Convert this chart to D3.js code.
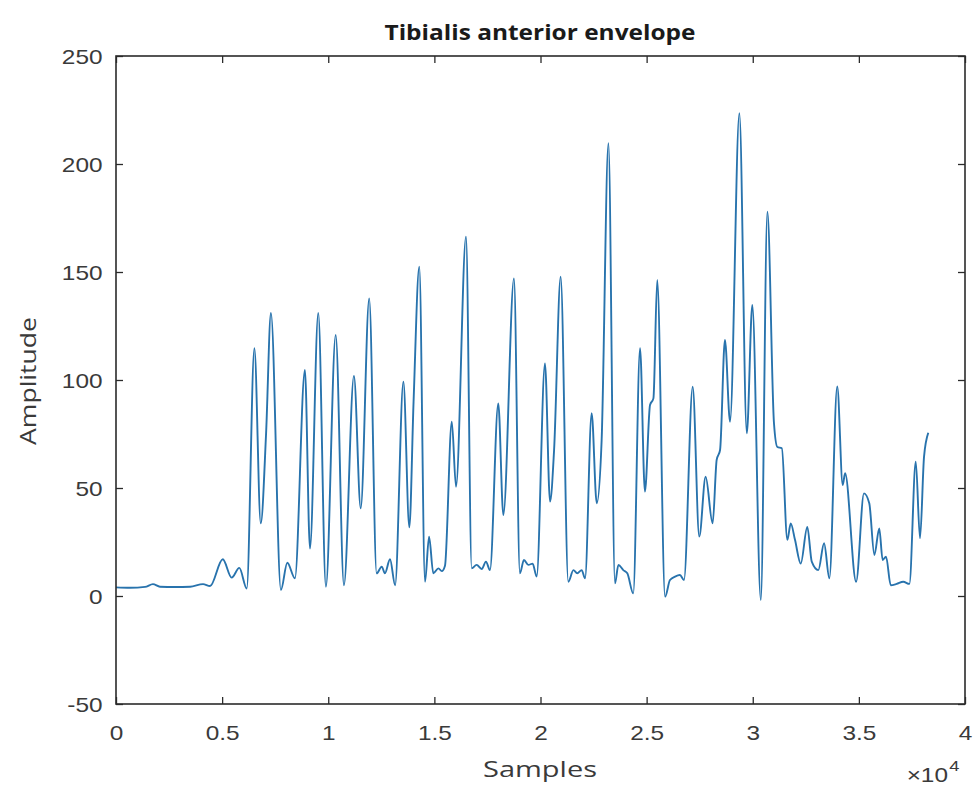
<!DOCTYPE html>
<html>
<head>
<meta charset="utf-8">
<script src="https://cdn.jsdelivr.net/npm/d3@7"></script>
<style>
  body { margin: 0; background: #fff; }
  svg { display: block; }
</style>
</head>
<body>
<svg id="chart" width="975" height="785"></svg>
<script>
// Envelope samples (sample index, amplitude)
const samples = [
  0, 660, 1370, 1740, 2070, 2780, 3490, 4100, 4430, 5030,
  5450, 5810, 6160, 6520, 6820, 7070, 7300, 7770, 8070, 8430,
  8900, 9140, 9530, 9890, 10350, 10740, 11210, 11530, 11930, 12280,
  12520, 12670, 12910, 13150, 13540, 13820, 14020, 14290, 14560, 14750,
  14950, 15190, 15350, 15500, 15820, 16020, 16490, 16760, 16990, 17230,
  17430, 17620, 18010, 18250, 18750, 19030, 19220, 19430, 19630, 19820,
  20210, 20450, 20640, 20950, 21310, 21550, 21730, 21940, 22100, 22410,
  22650, 22880, 23200, 23510, 23670, 23900, 24090, 24370, 24690, 24920,
  25160, 25320, 25500, 25870, 26100, 26340, 26570, 26760, 27170, 27480,
  27780, 28110, 28300, 28460, 28690, 28930, 29370, 29720, 29980, 30380,
  30690, 31000, 31160, 31370, 31630, 31790, 31990, 32260, 32570, 32780,
  33090, 33360, 33610, 33980, 34240, 34350, 34870, 35240, 35490, 35730,
  35960, 36120, 36280, 36500, 36780, 37090, 37380, 37680, 37880, 38070,
  38270
];
const amplitude = [
  4.0, 3.8, 4.2, 5.5, 4.3, 4.2, 4.3, 5.5, 4.6, 17,
  8.5, 13, 3.5, 114.7, 33.6, 75, 131, 2.8, 15.4, 8.2,
  104.6, 22, 131, 4.3, 120.8, 5, 101.9, 40.6, 137.8, 10.5,
  13.6, 10.5, 17, 5, 99.2, 31.8, 90, 152.5, 6.6, 27.5,
  10.5, 12.8, 11.5, 14, 80.7, 50.6, 166.3, 12.8, 14.4, 12.5,
  15.9, 12, 89.2, 37.5, 147, 10.5, 16.7, 14.4, 15, 9,
  107.7, 43.7, 67.6, 147.8, 6.6, 12, 10.5, 12, 8.2, 84.6,
  42.9, 72, 209.6, 5.9, 14.4, 12, 10.5, 1.2, 114.7, 48.3,
  88.4, 91.5, 146.3, -0.3, 7.4, 9, 9.7, 7.4, 96.9, 27.5,
  55.2, 33.6, 63, 67.6, 118.5, 80.7, 223.5, 75.3, 134.7, -1.9,
  177.9, 80, 69, 68.4, 26, 33.6, 26, 15, 32, 15.9,
  12, 24.4, 8.2, 97, 51.4, 56.8, 6.6, 47.5, 42.9, 19,
  31.3, 16.7, 18.2, 5, 5.6, 6.6, 5.6, 62.2, 26.7, 64.5,
  75.6
];

const xTicks = [0, 5000, 10000, 15000, 20000, 25000, 30000, 35000, 40000];
const xTickLabels = ['0', '0.5', '1', '1.5', '2', '2.5', '3', '3.5', '4'];
const yTicks = [-50, 0, 50, 100, 150, 200, 250];

const titleText = 'Tibialis anterior envelope';
const xLabelText = 'Samples';
const yLabelText = 'Amplitude';

// plot box (pixels)
const plotLeft = 116, plotRight = 965, plotTop = 56, plotBottom = 704;
const axisColor = '#2b2b2b';
const textColor = '#3a3a3a';
const stretch = 1.22; // tick text in the figure is stretched horizontally

const svg = d3.select('#chart');

const x = d3.scaleLinear().domain([0, 40000]).range([plotLeft, plotRight]);
const y = d3.scaleLinear().domain([-50, 250]).range([plotBottom, plotTop]);

// data line
const data = samples.map((s, i) => [s, amplitude[i]]);
const line = d3.line()
  .x(d => x(d[0]))
  .y(d => y(d[1]))
  .curve(d3.curveMonotoneX);

svg.append('path')
  .datum(data)
  .attr('fill', 'none')
  .attr('stroke', '#2873ad')
  .attr('stroke-width', 1.9)
  .attr('stroke-linejoin', 'round')
  .attr('d', line);

// axes, ticks pointing inward, mirrored on top/right
const xAxis = svg.append('g')
  .attr('transform', `translate(0,${plotBottom})`)
  .call(d3.axisBottom(x).tickValues(xTicks)
    .tickFormat((d, i) => xTickLabels[i])
    .tickSize(-7).tickSizeOuter(0));

const xTop = svg.append('g')
  .attr('transform', `translate(0,${plotTop})`)
  .call(d3.axisTop(x).tickValues(xTicks).tickFormat('')
    .tickSize(-7).tickSizeOuter(0));

const yAxis = svg.append('g')
  .attr('transform', `translate(${plotLeft},0)`)
  .call(d3.axisLeft(y).tickValues(yTicks)
    .tickFormat(d => String(d))
    .tickSize(-7).tickSizeOuter(0));

const yRight = svg.append('g')
  .attr('transform', `translate(${plotRight},0)`)
  .call(d3.axisRight(y).tickValues(yTicks).tickFormat('')
    .tickSize(-7).tickSizeOuter(0));

[xAxis, xTop, yAxis, yRight].forEach(g => {
  g.select('.domain').remove();
  g.selectAll('.tick line').attr('stroke', axisColor).attr('stroke-width', 1.3);
});

xAxis.selectAll('.tick text')
  .attr('y', 36).attr('dy', 0)
  .attr('transform', `scale(${stretch},1)`)
  .attr('fill', textColor)
  .attr('font-family', 'Liberation Sans, Arial, sans-serif')
  .attr('font-size', 20);

yAxis.selectAll('.tick text')
  .attr('x', -13.5 / stretch).attr('dy', '0.38em')
  .attr('transform', `scale(${stretch},1)`)
  .attr('fill', textColor)
  .attr('font-family', 'Liberation Sans, Arial, sans-serif')
  .attr('font-size', 20);

// the box
svg.append('rect')
  .attr('x', plotLeft).attr('y', plotTop)
  .attr('width', plotRight - plotLeft).attr('height', plotBottom - plotTop)
  .attr('fill', 'none')
  .attr('stroke', axisColor)
  .attr('stroke-width', 1.6);

// exponent label
const expo = svg.append('g')
  .attr('transform', `translate(948,782) scale(${stretch},1)`)
  .attr('fill', textColor)
  .attr('font-family', 'Liberation Sans, Arial, sans-serif');
expo.append('text')
  .attr('text-anchor', 'end')
  .attr('font-size', 20)
  .text('\u00d710');
expo.append('text')
  .attr('x', 1).attr('y', -11)
  .attr('font-size', 15)
  .text('4');

// title and axis labels
svg.append('text')
  .attr('x', 540).attr('y', 40)
  .attr('text-anchor', 'middle')
  .attr('font-family', 'Open Sans, sans-serif')
  .attr('font-weight', 'bold')
  .attr('font-size', 21)
  .attr('textLength', 311)
  .attr('lengthAdjust', 'spacingAndGlyphs')
  .attr('fill', '#1a1a1a')
  .text(titleText);

svg.append('text')
  .attr('x', 540).attr('y', 777)
  .attr('text-anchor', 'middle')
  .attr('font-family', 'Open Sans, sans-serif')
  .attr('font-size', 21)
  .attr('textLength', 114)
  .attr('lengthAdjust', 'spacingAndGlyphs')
  .attr('fill', textColor)
  .text(xLabelText);

svg.append('text')
  .attr('transform', 'translate(36,381) rotate(-90)')
  .attr('text-anchor', 'middle')
  .attr('font-family', 'Open Sans, sans-serif')
  .attr('font-size', 21)
  .attr('textLength', 128)
  .attr('lengthAdjust', 'spacingAndGlyphs')
  .attr('fill', textColor)
  .text(yLabelText);
</script>
</body>
</html>
